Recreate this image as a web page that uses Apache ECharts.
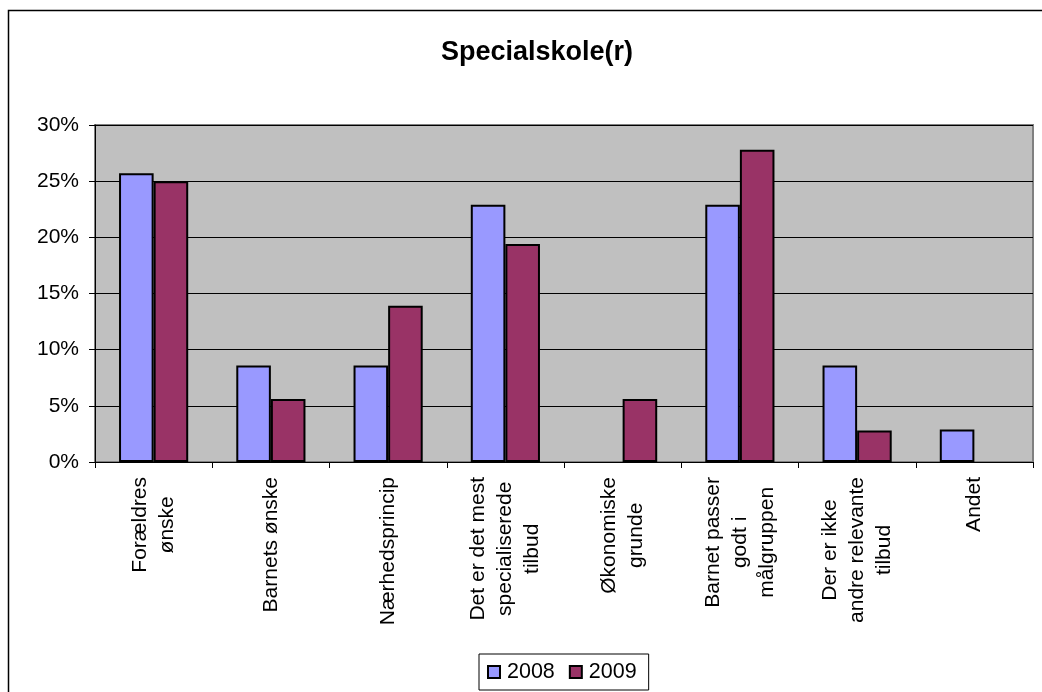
<!DOCTYPE html>
<html>
<head>
<meta charset="utf-8">
<script src="https://cdn.jsdelivr.net/npm/echarts@6/dist/echarts.min.js"></script>
<style>
html,body{margin:0;padding:0;background:#fff;}
#chart{width:1042px;height:692px;}
</style>
</head>
<body>
<div id="chart"></div>
<script>
const categories = [
  "Forældres\nønske",
  "Barnets ønske",
  "Nærhedsprincip",
  "Det er det mest\nspecialiserede\ntilbud",
  "Økonomiske\ngrunde",
  "Barnet passer\ngodt i\nmålgruppen",
  "Der er ikke\nandre relevante\ntilbud",
  "Andet"
];
const values2008 = [25.7, 8.6, 8.6, 22.9, 0, 22.9, 8.6, 2.9];
const values2009 = [25.0, 5.6, 13.9, 19.4, 5.6, 27.8, 2.8, 0];
const seriesNames = ["2008", "2009"];
const yTicks = [0, 5, 10, 15, 20, 25, 30];

const chart = echarts.init(document.getElementById('chart'), null, {renderer: 'canvas'});
const font = "'Liberation Sans', Arial, sans-serif";
const hideZero = arr => arr.map(v => (v === 0 ? null : v));
chart.setOption({
  animation: false,
  backgroundColor: '#fff',
  title: {
    text: 'Specialskole(r)',
    left: 436,
    top: 34,
    textStyle: {fontFamily: font, fontSize: 27, fontWeight: 'bold', color: '#000'}
  },
  graphic: [{
    type: 'rect', silent: true, z: -1,
    shape: {x: 8.5, y: 10.5, width: 1100, height: 700},
    style: {fill: 'none', stroke: '#000', lineWidth: 1.5}
  }],
  legend: {
    bottom: 2,
    left: 479,
    itemWidth: 12,
    itemHeight: 12,
    itemGap: 14,
    padding: [7, 12, 7, 8],
    borderColor: '#000',
    borderWidth: 1,
    backgroundColor: '#fff',
    textStyle: {fontFamily: font, fontSize: 21.5, color: '#000', padding: [0, 0, 0, 2]},
    data: seriesNames.map(n => ({name: n, icon: 'rect'}))
  },
  grid: {left: 95, right: 9, top: 125, bottom: 230, show: true, backgroundColor: '#c0c0c0', borderColor: '#808080', borderWidth: 2},
  xAxis: {
    type: 'category',
    data: categories,
    axisLine: {lineStyle: {color: '#000', width: 1}},
    axisTick: {show: true, alignWithLabel: false, length: 6, lineStyle: {color: '#000'}},
    axisLabel: {
      interval: 0,
      rotate: 90,
      margin: 15,
      fontFamily: font,
      fontSize: 21,
      color: '#000',
      lineHeight: 27,
      formatter: function (v) { return v.split('\n').map(s => '{c|' + s + '}').join('\n'); },
      rich: {c: {align: 'center', fontFamily: font, fontSize: 21, color: '#000', lineHeight: 27}}
    }
  },
  yAxis: {
    type: 'value',
    min: 0, max: 30, interval: 5,
    axisLine: {show: true, lineStyle: {color: '#000', width: 1}},
    axisTick: {show: true, length: 6, lineStyle: {color: '#000'}},
    splitLine: {show: true, lineStyle: {color: '#000', width: 1}},
    axisLabel: {
      fontFamily: font, fontSize: 21, color: '#000', margin: 16,
      formatter: function (v) { return yTicks.indexOf(v) >= 0 ? v + '%' : ''; }
    }
  },
  series: [
    {
      name: seriesNames[0], type: 'bar', data: hideZero(values2008),
      barGap: '0%', barCategoryGap: '41%',
      itemStyle: {color: '#9999ff', borderColor: '#000', borderWidth: 2}
    },
    {
      name: seriesNames[1], type: 'bar', data: hideZero(values2009),
      itemStyle: {color: '#993366', borderColor: '#000', borderWidth: 2}
    }
  ]
});
</script>
</body>
</html>
